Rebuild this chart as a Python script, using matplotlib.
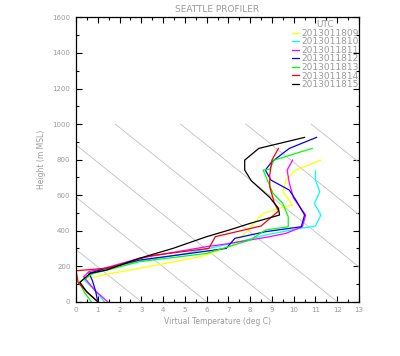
import numpy as np
from matplotlib import pyplot as plt
from matplotlib.ticker import MultipleLocator

# profiles: virtual temperature (deg C) vs height (m MSL), one per UTC hour
yellow_T = [1.3, 0.9, 0.45, 0.8, 1.3, 3.0, 4.5, 5.7, 6.4, 7.2, 7.8, 8.3, 8.6, 9.3, 9.95, 9.5, 9.65, 10.1, 11.25]
yellow_z = [0, 60, 115, 137, 152, 190, 225, 253, 281, 319, 390, 460, 497, 525, 544, 620, 685, 741, 797]

cyan_T = [1.3, 0.9, 0.4, 0.6, 1.2, 2.9, 5.0, 7.5, 8.7, 10.3, 11.0, 11.25, 10.95, 11.2, 11.0, 11.0]
cyan_z = [0, 60, 120, 150, 175, 229, 270, 338, 375, 413, 426, 488, 553, 619, 685, 737]

magenta_T = [1.45, 0.9, 0.35, 0.6, 1.2, 2.9, 6.0, 6.9, 8.9, 9.65, 10.4, 10.55, 10.0, 9.8, 9.7, 9.95]
magenta_z = [0, 60, 140, 170, 185, 244, 310, 325, 366, 385, 422, 488, 582, 666, 741, 797]

blue_T = [1.0, 0.9, 0.75, 0.6, 1.3, 2.9, 5.0, 6.9, 7.3, 7.5, 8.7, 10.35, 10.5, 10.1, 9.8, 8.95, 8.7, 9.0, 9.8, 11.05]
blue_z = [0, 60, 120, 160, 185, 234, 268, 300, 357, 362, 394, 422, 488, 572, 628, 685, 741, 788, 863, 925]

green_T = [0.7, 0.4, 0.15, 0.8, 1.5, 2.9, 6.0, 8.0, 8.7, 9.75, 9.75, 9.5, 9.05, 8.6, 8.9, 9.1, 10.85]
green_z = [0, 50, 109, 160, 180, 225, 272, 347, 403, 422, 478, 553, 610, 741, 745, 797, 863]

red_T = [1.0, 0.5, 0.1, 0.0, 1.5, 3.4, 6.1, 6.4, 8.5, 9.3, 9.1, 8.9, 8.9, 9.0, 9.3]
red_z = [0, 55, 107, 174, 190, 259, 300, 366, 426, 510, 560, 647, 713, 797, 863]

black_T = [1.0, 0.5, 0.18, 0.65, 1.4, 2.9, 4.45, 6.0, 7.05, 8.0, 9.35, 9.3, 8.9, 8.05, 7.75, 7.75, 8.4, 10.5]
black_z = [0, 55, 109, 160, 178, 244, 300, 366, 404, 441, 488, 525, 587, 681, 741, 797, 863, 925]

labels = ['2013011809', '2013011810', '2013011811', '2013011812',
          '2013011813', '2013011814', '2013011815']
colors = ['#ffff00', '#00ffff', '#ff00ff', '#0000ff', '#00ff00', '#ff0000', '#000000']

# dry adiabats (deg C at surface)
adiabat_T0 = [3, 6, 9, 12, 15, 18, 21, 24]

txt = '#9a9a9a'

fig = plt.figure(figsize=(4.0, 3.56), dpi=100)
ax = fig.add_axes([0.19, 0.1525, 0.7075, 0.7985])

zz = np.linspace(0, 1000, 50)
for t0 in adiabat_T0:
    ax.plot(t0 - zz * 0.0102, zz, color='#c0c0c0', lw=0.6)

profiles = [(yellow_T, yellow_z), (cyan_T, cyan_z), (magenta_T, magenta_z),
            (blue_T, blue_z), (green_T, green_z), (red_T, red_z), (black_T, black_z)]
for (t, z), c, lab in zip(profiles, colors, labels):
    ax.plot(t, z, color=c, lw=0.9, label=lab)

ax.set_xlim(0, 13)
ax.set_ylim(0, 1600)
ax.xaxis.set_major_locator(MultipleLocator(1))
ax.xaxis.set_minor_locator(MultipleLocator(0.5))
ax.yaxis.set_major_locator(MultipleLocator(200))
ax.yaxis.set_minor_locator(MultipleLocator(100))
ax.tick_params(which='both', direction='in', top=True, right=True,
               labelsize=5, labelcolor=txt, width=0.8)
ax.tick_params(which='major', length=4, pad=4)
ax.tick_params(which='minor', length=2.5)
for s in ax.spines.values():
    s.set_linewidth(0.9)

ax.set_xlabel('Virtual Temperature (deg C)', fontsize=5.5, color=txt, labelpad=3)
ax.set_ylabel('Height (m MSL)', fontsize=5.5, color=txt, labelpad=5)
ax.set_title('SEATTLE PROFILER', fontsize=6.5, color=txt, pad=4)

leg = ax.legend(loc='upper right', bbox_to_anchor=(1.0, 0.99), frameon=False,
                title='UTC', fontsize=6.5, title_fontsize=6.5, labelcolor=txt,
                handlelength=0.8, handletextpad=0.3, labelspacing=-0.05,
                borderaxespad=0, borderpad=0)
leg.get_title().set_color(txt)

fig.savefig('out.png', dpi=100)
